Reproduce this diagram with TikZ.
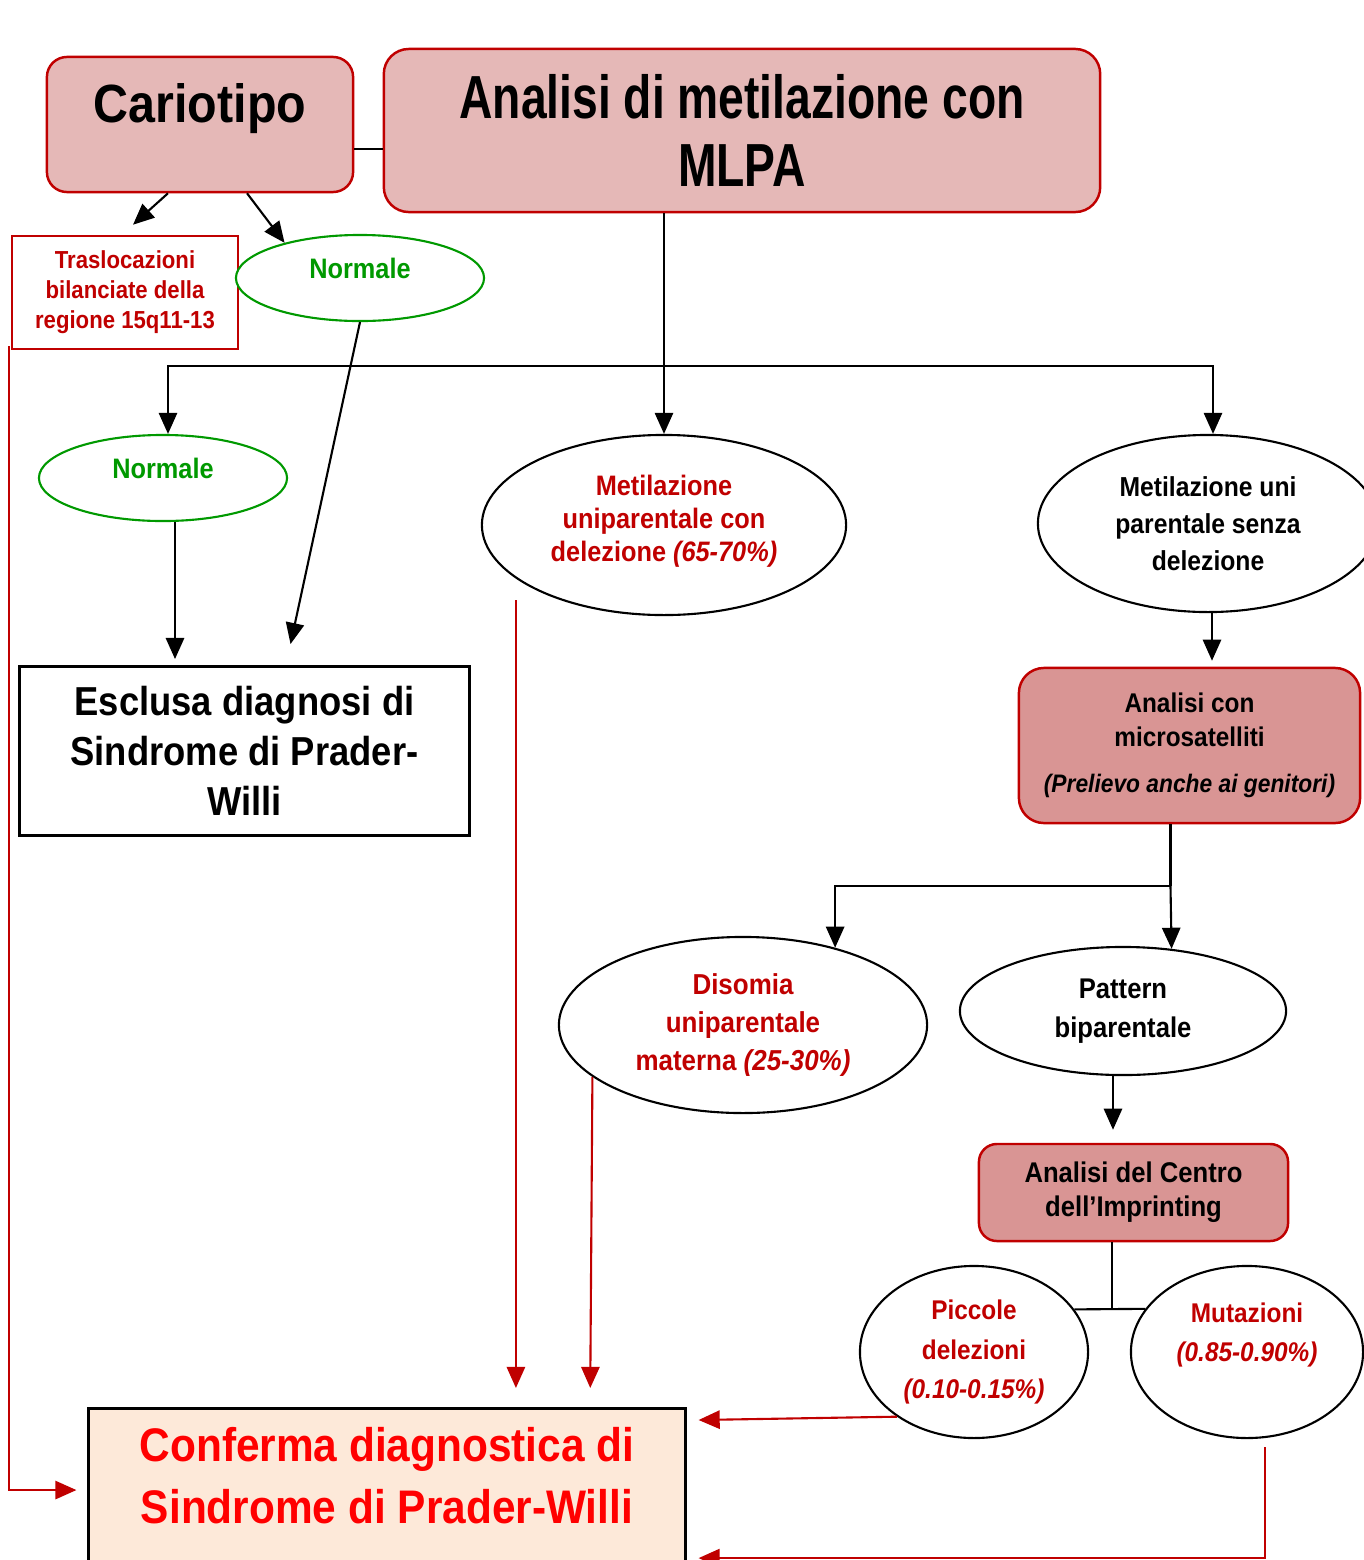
\documentclass[tikz,border=0pt]{standalone}
\usepackage{fontspec}
\setmainfont{Liberation Sans}[FakeStretch=0.9]
\newfontfamily\narrowfont{Liberation Sans}[FakeStretch=0.76]
\usepackage{tikz}
\usetikzlibrary{shapes.geometric,arrows.meta}
\usepackage{xcolor}

\definecolor{boxpink}{HTML}{E5B8B7}
\definecolor{boxrose}{HTML}{D99594}
\definecolor{darkred}{HTML}{C00000}
\definecolor{peach}{HTML}{FDE9D9}
\definecolor{normgreen}{HTML}{009900}

\tikzset{
  arr/.style={-{Triangle[length=6pt,width=5.2pt]},draw=black,line width=0.6pt},
  redarr/.style={-{Triangle[length=6pt,width=5.2pt]},draw=darkred,line width=0.6pt},
  testbox/.style={draw=darkred,line width=0.7pt,align=center,inner sep=0pt},
  oval/.style={ellipse,draw=black,line width=0.6pt,fill=white,align=center,inner sep=0pt},
  normal/.style={oval,draw=normgreen,text=normgreen,minimum width=2.48cm,minimum height=0.86cm,
    font=\fontsize{8}{9.6}\selectfont\bfseries,text height=6pt,text depth=6pt}
}

\begin{document}
\begin{tikzpicture}[x=0.01cm,y=-0.01cm]

  \useasboundingbox (0,0) rectangle (1364,1560);

  \node[testbox,fill=boxpink,rounded corners=0.2cm,minimum width=3.06cm,minimum height=1.35cm,
    font=\fontsize{15.3}{18}\selectfont\bfseries,text height=11pt,text depth=12.4pt] (Ca) at (200,124.5) {Cariotipo};
  \node[testbox,fill=boxpink,rounded corners=0.25cm,minimum width=7.16cm,minimum height=1.63cm,
    font=\narrowfont\fontsize{17.3}{19.3}\selectfont\bfseries] (AnMe) at (742,130.5) {Analisi di metilazione con\\MLPA};

  \node[testbox,fill=white,text=darkred,minimum width=2.26cm,minimum height=1.13cm,
    font=\fontsize{7}{8.5}\selectfont\bfseries] (TrBi) at (125,292.5) {Traslocazioni\\bilanciate della\\regione 15q11-13};
  \node[normal] (NoA) at (360,278) {Normale};
  \node[normal] (NoB) at (163,478) {Normale};

  \node[draw=black,line width=0.8pt,fill=white,align=center,inner sep=0pt,minimum width=4.49cm,minimum height=1.69cm,
    font=\fontsize{11.5}{14.2}\selectfont\bfseries] (EsDi) at (244.5,751) {Esclusa diagnosi di\\Sindrome di Prader-\\Willi};

  \node[oval,text=darkred,minimum width=3.64cm,minimum height=1.80cm,
    font=\fontsize{8}{9.4}\selectfont\bfseries] (MeCo) at (664,525) {Metilazione\\uniparentale con\\delezione \textit{(65-70\%)}\\[-5.4pt]\mbox{}};
  \node[oval,minimum width=3.40cm,minimum height=1.77cm,
    font=\fontsize{7.8}{10.5}\selectfont\bfseries] (MeSe) at (1208,523.5) {Metilazione uni\\parentale senza\\delezione};

  \node[testbox,fill=boxrose,rounded corners=0.25cm,minimum width=3.41cm,minimum height=1.55cm,
    font=\fontsize{7.7}{9.7}\selectfont\bfseries] (AnMi) at (1189.5,745.5)
    {Analisi con\\microsatelliti\\[3.5pt]{\fontsize{7.2}{9}\selectfont\textit{(Prelievo anche ai genitori)}}};

  \node[oval,text=darkred,minimum width=3.68cm,minimum height=1.76cm,
    font=\fontsize{8.2}{10.7}\selectfont\bfseries] (DiUn) at (743,1025) {Disomia\\uniparentale\\materna \textit{(25-30\%)}};
  \node[oval,minimum width=3.26cm,minimum height=1.28cm,
    font=\fontsize{8.1}{11}\selectfont\bfseries] (PaBi) at (1123,1011) {Pattern\\biparentale};

  \node[testbox,fill=boxrose,rounded corners=0.18cm,minimum width=3.09cm,minimum height=0.97cm,
    font=\fontsize{8.1}{9.7}\selectfont\bfseries] (AnCe) at (1133.5,1192.5) {Analisi del Centro\\dell’Imprinting};

  \node[oval,text=darkred,minimum width=2.28cm,minimum height=1.72cm,
    font=\fontsize{7.7}{11.2}\selectfont\bfseries] (PiDe) at (974,1352) {Piccole\\delezioni\\\textit{(0.10-0.15\%)}};
  \node[oval,text=darkred,minimum width=2.32cm,minimum height=1.72cm,
    font=\fontsize{7.7}{11.2}\selectfont\bfseries] (Mu) at (1247,1352) {Mutazioni\\\textit{(0.85-0.90\%)}\\\mbox{}};

  \node[draw=black,line width=0.8pt,fill=peach,minimum width=5.96cm,minimum height=2.2cm,anchor=north] (CoDi) at (387,1407) {};
  \node[text=red,align=center,inner sep=0pt,font=\fontsize{13.4}{17.6}\selectfont\bfseries] (CoTx) at (387,1476)
    {Conferma diagnostica di\\Sindrome di Prader-Willi};

  % cariotipo
  \draw[line width=0.6pt] ([yshift=-2.45mm]Ca.east) -- ([yshift=-2.45mm]Ca.east -| AnMe.west);
  \draw[arr] ([xshift=-3.2mm]Ca.south) -- ([xshift=0.8mm,yshift=1mm]TrBi.north);
  \draw[arr] ([xshift=4.7mm]Ca.south) -- (NoA.155);
  \draw[arr] (NoA.south) -- ([xshift=4.6mm,yshift=2.1mm]EsDi.north);

  % MLPA
  \draw[arr] (AnMe.south -| MeCo.north) -- (MeCo.north);
  \coordinate (Br) at (MeCo.north |- 0,366);
  \draw[arr] (Br) -| ([xshift=0.5mm]NoB.north);
  \draw[arr] (Br) -| ([xshift=0.5mm]MeSe.north);
  \draw[arr,shorten >=0.6mm] ([xshift=1.2mm]NoB.south) -- ([xshift=1.2mm]NoB.south |- EsDi.north);
  \draw[arr,shorten >=0.6mm] ([xshift=0.4mm]MeSe.south) -- ([xshift=0.4mm]MeSe.south |- AnMi.north);

  % microsatelliti, centro imprinting
  \coordinate (Br2) at ([xshift=-1.9mm]AnMi.south |- 0,886);
  \draw[line width=0.6pt] ([xshift=-1.9mm]AnMi.south) -- (Br2);
  \draw[arr] (Br2) -| (DiUn.40);
  \draw[arr] (Br2) -- (PaBi.52);
  \draw[arr,shorten >=1.3mm] ([xshift=-1mm]PaBi.south) -- ([xshift=-1mm]PaBi.south |- AnCe.north);
  \draw[line width=0.6pt] ([xshift=-2.15mm]AnCe.south) -- ([xshift=-2.15mm]AnCe.south |- PiDe.23);
  \draw[line width=0.6pt] (PiDe.23) -- (Mu.157);

  % %to conferma
  \draw[redarr] ([xshift=-0.2mm,yshift=0.4mm]TrBi.south west) |- ([xshift=-1.1mm,yshift=-8.3mm]CoDi.north west);
  \draw[redarr,shorten >=1.9mm] ([xshift=-1.48cm,yshift=-0.75cm]MeCo.center) -- ([xshift=-1.48cm]MeCo.center |- CoDi.north);
  \draw[redarr,shorten >=1.9mm] (DiUn.199) -- ([xshift=2.03cm]CoDi.north);
  \draw[redarr] (PiDe.220) -- ([xshift=1.2mm,yshift=-1.3mm]CoDi.north east);
  \draw[redarr] ([xshift=1.8mm,yshift=-0.8mm]Mu.south) |- ([xshift=1.2mm,yshift=-15.1mm]CoDi.north east);

\end{tikzpicture}
\end{document}
